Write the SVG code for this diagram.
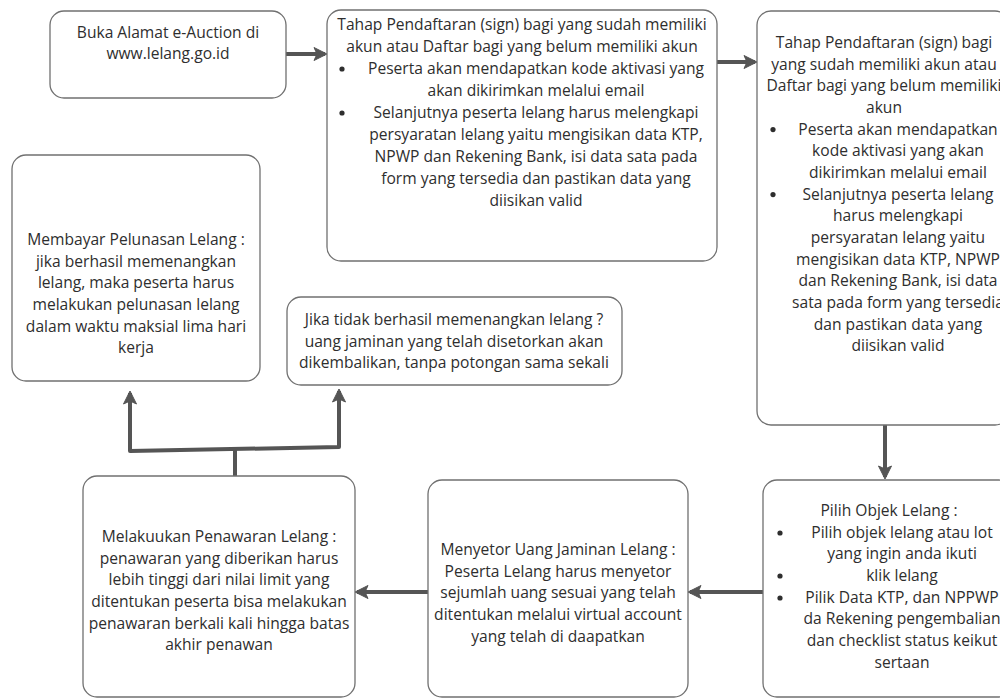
<svg xmlns="http://www.w3.org/2000/svg" width="1000" height="700" viewBox="0 0 1000 700">
<defs>
<style>
.box{fill:#fff;stroke:#707070;stroke-width:1.3}
.t{font-family:"Open Sans","Noto Sans",sans-serif;font-size:15.6px;fill:#2e2e2e;text-anchor:middle}
.dot{fill:#2e2e2e}
.con{fill:none;stroke:#555;stroke-width:4;stroke-linejoin:round}
</style>
<marker id="ah" markerUnits="userSpaceOnUse" markerWidth="16" markerHeight="16" refX="12" refY="8" orient="auto-start-reverse">
<path d="M1,1.5 L14,8 L1,14.5 L4,8 z" fill="#555" stroke="#555" stroke-width="1" stroke-linejoin="round"/>
</marker>
</defs>
<rect width="1000" height="700" fill="#fff"/>
<g id="connectors">
<line class="con" x1="286" y1="54" x2="325" y2="54" marker-end="url(#ah)"/>
<line class="con" x1="717" y1="62" x2="755" y2="62" marker-end="url(#ah)"/>
<line class="con" x1="885" y1="425" x2="885" y2="477" marker-end="url(#ah)"/>
<line class="con" x1="763" y1="592" x2="690" y2="592" marker-end="url(#ah)"/>
<line class="con" x1="428" y1="592" x2="357" y2="592" marker-end="url(#ah)"/>
<line class="con" x1="235" y1="476" x2="235" y2="450"/>
<path class="con" d="M130,393 L130,451 L339,447 L339,391" marker-start="url(#ah)" marker-end="url(#ah)"/>
</g>
<g id="n1">
<rect class="box" x="50" y="11" width="236" height="87" rx="14"/>
<text class="t"><tspan x="168" y="38">Buka Alamat e-Auction di</tspan><tspan x="168" y="59">www.lelang.go.id</tspan></text>
</g>
<g id="n2">
<rect class="box" x="327" y="10" width="390" height="251" rx="14"/>
<text class="t"><tspan x="522" y="30">Tahap Pendaftaran (sign) bagi yang sudah memiliki</tspan><tspan x="522" y="52">akun atau Daftar bagi yang belum memiliki akun</tspan><tspan x="536" y="74">Peserta akan mendapatkan kode aktivasi yang</tspan><tspan x="536" y="96">akan dikirimkan melalui email</tspan><tspan x="536" y="118">Selanjutnya peserta lelang harus melengkapi</tspan><tspan x="536" y="140">persyaratan lelang yaitu mengisikan data KTP,</tspan><tspan x="536" y="162">NPWP dan Rekening Bank, isi data sata pada</tspan><tspan x="536" y="184">form yang tersedia dan pastikan data yang</tspan><tspan x="536" y="206">diisikan valid</tspan></text>
<circle class="dot" cx="342" cy="69" r="2.6"/><circle class="dot" cx="342" cy="113" r="2.6"/>
</g>
<g id="n3">
<rect class="box" x="757" y="11" width="252" height="414" rx="14"/>
<text class="t"><tspan x="884" y="48">Tahap Pendaftaran (sign) bagi</tspan><tspan x="884" y="69.7">yang sudah memiliki akun atau</tspan><tspan x="884" y="91.3">Daftar bagi yang belum memiliki</tspan><tspan x="884" y="113">akun</tspan><tspan x="898" y="134.6">Peserta akan mendapatkan</tspan><tspan x="898" y="156.3">kode aktivasi yang akan</tspan><tspan x="898" y="178">dikirimkan melalui email</tspan><tspan x="898" y="199.6">Selanjutnya peserta lelang</tspan><tspan x="898" y="221.3">harus melengkapi</tspan><tspan x="898" y="243">persyaratan lelang yaitu</tspan><tspan x="898" y="264.6">mengisikan data KTP, NPWP</tspan><tspan x="898" y="286.3">dan Rekening Bank, isi data</tspan><tspan x="898" y="308">sata pada form yang tersedia</tspan><tspan x="898" y="329.6">dan pastikan data yang</tspan><tspan x="898" y="351.3">diisikan valid</tspan></text>
<circle class="dot" cx="773" cy="129.6" r="2.6"/><circle class="dot" cx="773" cy="194.6" r="2.6"/>
</g>
<g id="n4">
<rect class="box" x="763" y="480" width="250" height="217" rx="14"/>
<text class="t"><tspan x="889" y="516">Pilih Objek Lelang :</tspan><tspan x="902" y="538">Pilih objek lelang atau lot</tspan><tspan x="902" y="559">yang ingin anda ikuti</tspan><tspan x="902" y="581">klik lelang</tspan><tspan x="902" y="603">Pilik Data KTP, dan NPPWP</tspan><tspan x="902" y="624">da Rekening pengembalian</tspan><tspan x="902" y="646">dan checklist status keikut</tspan><tspan x="902" y="668">sertaan</tspan></text>
<circle class="dot" cx="780" cy="533" r="2.6"/><circle class="dot" cx="780" cy="576" r="2.6"/><circle class="dot" cx="780" cy="598" r="2.6"/>
</g>
<g id="n5">
<rect class="box" x="428" y="480" width="260" height="217" rx="14"/>
<text class="t"><tspan x="558" y="555">Menyetor Uang Jaminan Lelang :</tspan><tspan x="558" y="577">Peserta Lelang harus menyetor</tspan><tspan x="558" y="598">sejumlah uang sesuai yang telah</tspan><tspan x="558" y="620">ditentukan melalui virtual account</tspan><tspan x="558" y="642">yang telah di daapatkan</tspan></text>
</g>
<g id="n6">
<rect class="box" x="83" y="476" width="272" height="221" rx="14"/>
<text class="t"><tspan x="219" y="542">Melakuukan Penawaran Lelang :</tspan><tspan x="219" y="564">penawaran yang diberikan harus</tspan><tspan x="219" y="585">lebih tinggi dari nilai limit yang</tspan><tspan x="219" y="607">ditentukan peserta bisa melakukan</tspan><tspan x="219" y="629">penawaran berkali kali hingga batas</tspan><tspan x="219" y="650">akhir penawan</tspan></text>
</g>
<g id="n7">
<rect class="box" x="12" y="155" width="248" height="226" rx="14"/>
<text class="t"><tspan x="136" y="245">Membayar Pelunasan Lelang :</tspan><tspan x="136" y="267">jika berhasil memenangkan</tspan><tspan x="136" y="288">lelang, maka peserta harus</tspan><tspan x="136" y="310">melakukan pelunasan lelang</tspan><tspan x="136" y="332">dalam waktu maksial lima hari</tspan><tspan x="136" y="353">kerja</tspan></text>
</g>
<g id="n8">
<rect class="box" x="287" y="297" width="335" height="88" rx="14"/>
<text class="t"><tspan x="454" y="325">Jika tidak berhasil memenangkan lelang ?</tspan><tspan x="454" y="347">uang jaminan yang telah disetorkan akan</tspan><tspan x="454" y="368">dikembalikan, tanpa potongan sama sekali</tspan></text>
</g>
</svg>
